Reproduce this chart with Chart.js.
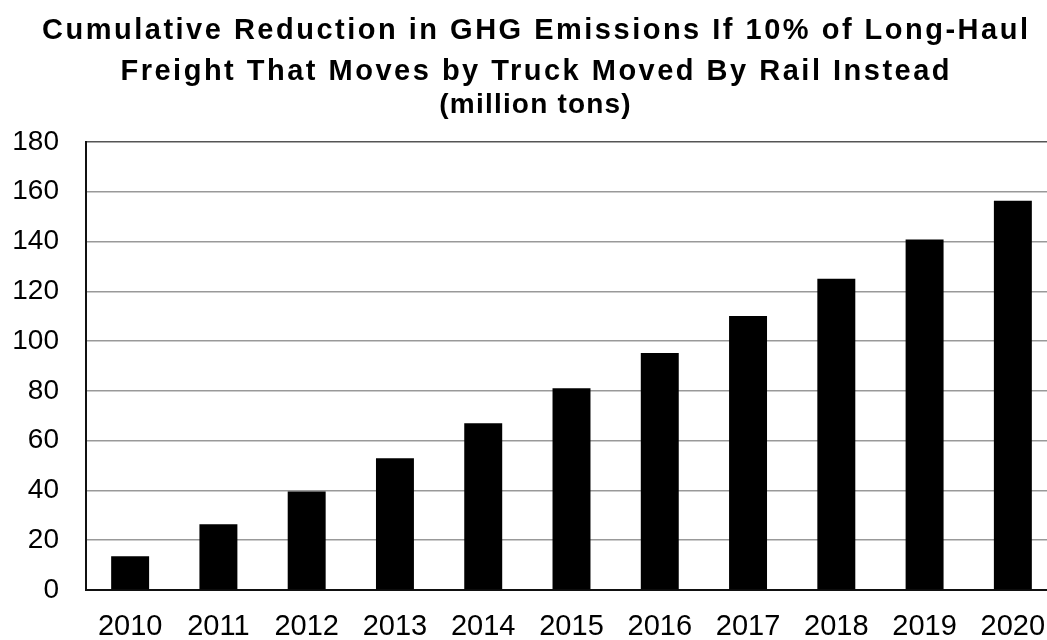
<!DOCTYPE html>
<html>
<head>
<meta charset="utf-8">
<script src="https://cdn.jsdelivr.net/npm/chart.js@4"></script>
<style>
    html, body { margin: 0; padding: 0; background: #fff; overflow: hidden; }
    #wrap { width: 1070px; height: 640px; position: relative; }
</style>
</head>
<body>
<div id="wrap"><canvas id="grafikghg"></canvas></div>
<script>
// cumulative GHG reduction per year (million tons)
const years = ['2010', '2011', '2012', '2013', '2014', '2015', '2016', '2017', '2018', '2019', '2020'];
const reductions = [13.6, 26.4, 39.6, 52.9, 67.0, 81.1, 95.2, 110.1, 125.1, 140.8, 156.4];
const titleLines = ['Cumulative Reduction in GHG Emissions If 10% of Long-Haul', 'Freight That Moves by Truck Moved By Rail Instead'];
const subtitleText = '(million tons)';

const fontFamily = '"Liberation Sans", Arial, sans-serif';

// title is drawn by hand so the letters can be spaced out a bit
const spacedTitle = {
    id: 'spacedTitle',
    afterDraw: (chart) => {
        const ctx = chart.ctx;
        const cx = 535;
        const rows = [
            { text: titleLines[0], y: 38.5, size: 29, spacing: 2.5 },
            { text: titleLines[1], y: 79.5, size: 29, spacing: 2.5 },
            { text: subtitleText, y: 113, size: 28, spacing: 1.2 }
        ];
        ctx.save();
        ctx.fillStyle = '#000';
        ctx.textAlign = 'center';
        ctx.textBaseline = 'alphabetic';
        rows.forEach((r) => {
            ctx.font = 'bold ' + r.size + 'px ' + fontFamily;
            ctx.letterSpacing = r.spacing + 'px';
            ctx.fillText(r.text, cx + r.spacing / 2, r.y);
        });
        ctx.restore();
    }
};

let grafikghg = document.getElementById('grafikghg');
let barChart = new Chart(grafikghg, {
    type: 'bar',
    data: {
        labels: years,
        datasets: [{
            label: 'GHG reduction',
            data: reductions,
            backgroundColor: '#000',
            borderWidth: 0,
            barPercentage: 0.43,
            categoryPercentage: 1.0
        }]
    },
    options: {
        responsive: true,
        maintainAspectRatio: false,
        animation: false,
        layout: {
            padding: { left: 0, right: 13, top: 142, bottom: 0 }
        },
        plugins: {
            legend: { display: false },
            tooltip: { enabled: false },
            title: { display: false }
        },
        scales: {
            x: {
                grid: { display: false, drawTicks: false },
                border: { display: true, color: '#111', width: 2 },
                ticks: {
                    color: '#000',
                    padding: 20,
                    maxRotation: 0,
                    font: { family: fontFamily, size: 29 }
                },
                afterFit: (scale) => { scale.height = 50; }
            },
            y: {
                min: 0,
                max: 180,
                grid: {
                    drawTicks: false,
                    color: (ctx) => ctx.tick && ctx.tick.value === 180 ? '#555' : '#999',
                    lineWidth: 1.6
                },
                border: { display: true, color: '#111', width: 2 },
                ticks: {
                    stepSize: 20,
                    color: '#000',
                    padding: 27,
                    font: { family: fontFamily, size: 28 }
                },
                afterFit: (scale) => { scale.width = 86; }
            }
        }
    },
    plugins: [spacedTitle]
});
</script>
</body>
</html>
